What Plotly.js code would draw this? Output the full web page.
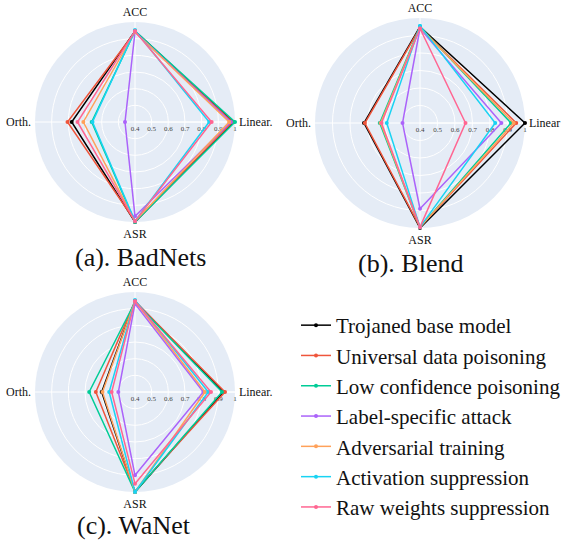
<!DOCTYPE html>
<html>
<head>
<meta charset="utf-8">
<script src="https://cdn.plot.ly/plotly-3.0.1.min.js"></script>
<style>html,body{margin:0;padding:0;background:#fff;}#chart{width:562px;height:540px;}</style>
</head>
<body>
<div id="chart"></div>
<script>
// Axis categories
const catsA = ["ACC", "Linear.", "ASR", "Orth."];
const catsB = ["ACC", "Linear", "ASR", "Orth."];
const catsC = ["ACC", "Linear.", "ASR", "Orth."];

// Series names and colours
const seriesNames = ["Trojaned base model", "Universal data poisoning", "Low confidence poisoning",
  "Label-specific attack", "Adversarial training", "Activation suppression", "Raw weights suppression"];
const seriesColors = ["#000000", "#EF553B", "#00CC96", "#AB63FA", "#FFA15A", "#19D3F3", "#FF6692"];

// (a) BadNets values: [ACC, Linear, ASR, Orth]
const badnetsTrojaned  = [0.945, 0.99, 1.0, 0.78];
const badnetsUniversal = [0.94, 0.985, 0.995, 0.805];
const badnetsLowConf   = [0.945, 1.0, 1.0, 0.66];
const badnetsLabelSpec = [0.94, 0.975, 0.965, 0.46];
const badnetsAdvTrain  = [0.94, 0.965, 0.995, 0.71];
const badnetsActSupp   = [0.95, 0.845, 0.995, 0.655];
const badnetsRawSupp   = [0.945, 0.86, 0.995, 0.745];

// (b) Blend values
const blendTrojaned  = [0.95, 1.0, 1.0, 0.72];
const blendUniversal = [0.945, 0.95, 0.995, 0.715];
const blendLowConf   = [0.95, 0.92, 0.995, 0.63];
const blendLabelSpec = [0.94, 0.865, 0.89, 0.5];
const blendAdvTrain  = [0.945, 0.935, 0.995, 0.625];
const blendActSupp   = [0.955, 0.83, 0.995, 0.59];
const blendRawSupp   = [0.94, 0.66, 0.995, 0.62];

// (c) WaNet values
const wanetTrojaned  = [0.945, 0.93, 1.0, 0.6];
const wanetUniversal = [0.945, 0.94, 0.995, 0.635];
const wanetLowConf   = [0.94, 0.922, 1.0, 0.675];
const wanetLabelSpec = [0.93, 0.81, 0.9, 0.5];
const wanetAdvTrain  = [0.945, 0.82, 1.0, 0.595];
const wanetActSupp   = [0.95, 0.84, 1.0, 0.555];
const wanetRawSupp   = [0.945, 0.856, 0.95, 0.54];

// Radial ticks
const radialTickVals = [0.4, 0.5, 0.6, 0.7, 0.8, 0.9, 1];
const radialTickText = ["0.4", "0.5", "0.6", "0.7", "0.8", "0.9", "1"];

// Subplot titles
const panelTitles = ["(a). BadNets", "(b). Blend", "(c). WaNet"];

const panels = [
  {cats: catsA, polar: "polar", data: [badnetsTrojaned, badnetsUniversal, badnetsLowConf, badnetsLabelSpec, badnetsAdvTrain, badnetsActSupp, badnetsRawSupp]},
  {cats: catsB, polar: "polar2", data: [blendTrojaned, blendUniversal, blendLowConf, blendLabelSpec, blendAdvTrain, blendActSupp, blendRawSupp]},
  {cats: catsC, polar: "polar3", data: [wanetTrojaned, wanetUniversal, wanetLowConf, wanetLabelSpec, wanetAdvTrain, wanetActSupp, wanetRawSupp]}
];

const traces = [];
seriesNames.forEach((name, i) => {
  panels.forEach((p, k) => {
    traces.push({
      type: "scatterpolar", mode: "lines+markers",
      r: p.data[i].concat([p.data[i][0]]), theta: p.cats.concat([p.cats[0]]), subplot: p.polar,
      name: name, legendgroup: name, showlegend: k === 0,
      line: {color: seriesColors[i], width: 1.5},
      marker: {color: seriesColors[i], size: 4},
      cliponaxis: false
    });
  });
});

const W = 562, H = 540;
function polarLayout(cx, cy, rad, cats) {
  return {
    domain: {x: [(cx - rad) / W, (cx + rad) / W], y: [1 - (cy + rad) / H, 1 - (cy - rad) / H]},
    bgcolor: "#E5ECF6",
    radialaxis: {
      range: [0.4, 1], tickvals: radialTickVals, ticktext: radialTickText,
      angle: 0, tickangle: 0, ticks: "", showline: true, linecolor: "white", linewidth: 1,
      gridcolor: "white", gridwidth: 1, layer: "below traces",
      tickfont: {family: "Liberation Serif", size: 7, color: "#444"}
    },
    angularaxis: {
      type: "category", categoryorder: "array", categoryarray: cats,
      rotation: 90, direction: "clockwise", ticks: "outside", ticklen: 1, tickcolor: "rgba(0,0,0,0)",
      showline: false, gridcolor: "white", gridwidth: 1, layer: "below traces",
      tickfont: {family: "Liberation Serif", size: 12, color: "#111"}
    }
  };
}

const layout = {
  width: W, height: H,
  margin: {l: 0, r: 0, t: 0, b: 0, autoexpand: false},
  paper_bgcolor: "white",
  font: {family: "Liberation Serif", color: "#111"},
  polar: polarLayout(135, 122, 100, catsA),
  polar2: polarLayout(420, 123, 105, catsB),
  polar3: polarLayout(135, 392, 100, catsC),
  showlegend: true,
  legend: {
    x: 296 / W, y: 1 - 305 / H, xanchor: "left", yanchor: "top",
    font: {family: "Liberation Serif", size: 21, color: "#111"},
    bgcolor: "rgba(0,0,0,0)", traceorder: "grouped", tracegroupgap: 0,
    itemwidth: 30
  },
  annotations: [
    {text: panelTitles[0], x: 140 / W, y: 1 - 257.5 / H, xref: "paper", yref: "paper", showarrow: false, xanchor: "center", yanchor: "middle", font: {family: "Liberation Serif", size: 26, color: "#111"}},
    {text: panelTitles[1], x: 410 / W, y: 1 - 263 / H, xref: "paper", yref: "paper", showarrow: false, xanchor: "center", yanchor: "middle", font: {family: "Liberation Serif", size: 26, color: "#111"}},
    {text: panelTitles[2], x: 134 / W, y: 1 - 525.5 / H, xref: "paper", yref: "paper", showarrow: false, xanchor: "center", yanchor: "middle", font: {family: "Liberation Serif", size: 26, color: "#111"}}
  ]
};

Plotly.newPlot("chart", traces, layout, {displayModeBar: false, staticPlot: true});
</script>
</body>
</html>
